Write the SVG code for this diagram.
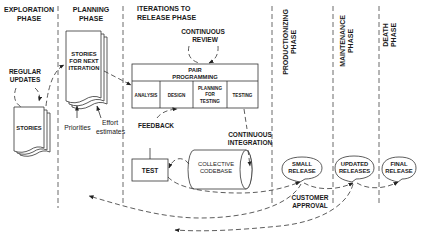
<svg xmlns="http://www.w3.org/2000/svg" width="426" height="242" viewBox="0 0 426 242">
  <defs>
    <marker id="arr" viewBox="0 0 10 10" refX="9" refY="5" markerWidth="5" markerHeight="5" markerUnits="userSpaceOnUse" orient="auto">
      <path d="M0 1 L10 5 L0 9 Z" fill="#222"/>
    </marker>
  </defs>
  <style>
    text { font-family: "Liberation Sans", Arial, sans-serif; fill: #1a1a1a; text-anchor: middle; }
    .h { font-size: 7px; font-weight: bold; }
    .l { font-size: 6.5px; font-weight: bold; }
    .n { font-size: 5.8px; font-weight: bold; }
    .s { font-size: 4.6px; font-weight: bold; }
    .r { font-size: 6.8px; }
    .shape { fill: #fff; stroke: #333; stroke-width: 0.8; }
    .sep { fill: none; stroke: #444; stroke-width: 0.8; stroke-dasharray: 5 3; }
    .dash { fill: none; stroke: #333; stroke-width: 0.8; stroke-dasharray: 5 3; }
    .solid { fill: none; stroke: #333; stroke-width: 0.8; }
  </style>
  <rect width="426" height="242" fill="#fff"/>

  <!-- phase separators -->
  <g id="separators">
    <line class="sep" x1="58" y1="6" x2="58" y2="208"/>
    <line class="sep" x1="123" y1="6" x2="123" y2="205"/>
    <line class="sep" x1="272" y1="6" x2="272" y2="206"/>
    <line class="sep" x1="333" y1="6" x2="333" y2="206"/>
    <line class="sep" x1="379" y1="6" x2="379" y2="204"/>
  </g>

  <!-- phase headings -->
  <g id="headings">
    <text class="h" x="29" y="12">EXPLORATION</text>
    <text class="h" x="29" y="21">PHASE</text>
    <text class="h" x="91" y="12">PLANNING</text>
    <text class="h" x="91" y="21">PHASE</text>
    <text class="h" x="137" y="11" style="text-anchor:start">ITERATIONS TO</text>
    <text class="h" x="137" y="20" style="text-anchor:start">RELEASE PHASE</text>
    <text class="h" transform="translate(287.5 42) rotate(-90)">PRODUCTIONIZING</text>
    <text class="h" transform="translate(296 42) rotate(-90)">PHASE</text>
    <text class="h" transform="translate(344.5 41) rotate(-90)">MAINTENANCE</text>
    <text class="h" transform="translate(353 41) rotate(-90)">PHASE</text>
    <text class="h" transform="translate(387.5 35) rotate(-90)">DEATH</text>
    <text class="h" transform="translate(396 35) rotate(-90)">PHASE</text>
  </g>

  <!-- stories document stack -->
  <g id="stories">
    <path class="shape" d="M20 113 H50 V152 Q43 149 36 154 Q28 158 20 155 Z"/>
    <path class="shape" d="M17 110 H47 V150 Q40 147 33 152 Q25 156 17 153 Z"/>
    <path class="shape" d="M14 107 H44 V148 Q37 145 30 150 Q22 154 14 151 Z"/>
    <text class="n" x="29" y="130">STORIES</text>
  </g>

  <!-- stories for next iteration document stack -->
  <g id="next-iteration">
    <path class="shape" d="M72 37 H107 V104 Q99 100 90 106 Q81 111 72 107 Z"/>
    <path class="shape" d="M69 34 H104 V101 Q96 97 87 103 Q78 108 69 104 Z"/>
    <path class="shape" d="M66 31 H101 V98 Q93 94 84 100 Q75 105 66 101 Z"/>
    <text class="n" x="84" y="56">STORIES</text>
    <text class="n" x="84" y="63">FOR NEXT</text>
    <text class="n" x="84" y="70">ITERATION</text>
  </g>

  <!-- pair programming block -->
  <g id="pair-programming">
    <rect class="shape" x="132" y="64" width="126" height="44"/>
    <line class="solid" x1="132" y1="81" x2="258" y2="81"/>
    <line class="solid" x1="160" y1="81" x2="160" y2="108"/>
    <line class="solid" x1="193" y1="81" x2="193" y2="108"/>
    <line class="solid" x1="227" y1="81" x2="227" y2="108"/>
    <text class="n" x="195" y="71.5">PAIR</text>
    <text class="n" x="195" y="78.5">PROGRAMMING</text>
    <text class="s" x="146" y="96.5">ANALYSIS</text>
    <text class="s" x="176.5" y="96.5">DESIGN</text>
    <text class="s" x="210" y="89.5">PLANNING</text>
    <text class="s" x="210" y="96">FOR</text>
    <text class="s" x="210" y="102.5">TESTING</text>
    <text class="s" x="242.5" y="96.5">TESTING</text>
  </g>

  <!-- test box -->
  <g id="test">
    <rect class="shape" x="132" y="159" width="36" height="22"/>
    <text class="l" x="150" y="172.5">TEST</text>
  </g>

  <!-- collective codebase cylinder -->
  <g id="codebase">
    <path class="shape" d="M194 150 H246 A6 19.5 0 0 1 246 189 H194 A6 19.5 0 0 1 194 150 Z"/>
    <ellipse class="shape" cx="246" cy="169.5" rx="6" ry="19.5"/>
    <text class="n" x="216" y="166" style="font-weight:normal">COLLECTIVE</text>
    <text class="n" x="216" y="173" style="font-weight:normal">CODEBASE</text>
  </g>

  <!-- releases -->
  <g id="small-release">
    <path class="shape" d="M300 182 C290 180 282 177 282 169 C282 161 290 157 302 157 C314 157 322 161 322 168 C322 175 314 179 305 179 Z"/>
    <text class="n" x="302" y="166">SMALL</text>
    <text class="n" x="302" y="173">RELEASE</text>
  </g>
  <g id="updated-releases">
    <path class="shape" d="M352 182 C342 180 335 177 335 168 C335 160 342 156 354 156 C366 156 374 160 374 168 C374 175 366 179 356 179 Z"/>
    <text class="n" x="354.5" y="166">UPDATED</text>
    <text class="n" x="354.5" y="173">RELEASES</text>
  </g>
  <g id="final-release">
    <path class="shape" d="M398 182 C389 180 382 177 382 169 C382 161 389 157 399 157 C410 157 416 161 416 168 C416 175 410 179 402 179 Z"/>
    <text class="n" x="399" y="166">FINAL</text>
    <text class="n" x="399" y="173">RELEASE</text>
  </g>

  <!-- free labels -->
  <g id="labels">
    <text class="l" x="25" y="74">REGULAR</text>
    <text class="l" x="25" y="82">UPDATES</text>
    <text class="r" x="77.5" y="130">Priorities</text>
    <text class="r" x="110" y="125">Effort</text>
    <text class="r" x="110.5" y="134">estimates</text>
    <text class="l" x="203" y="34">CONTINUOUS</text>
    <text class="l" x="205" y="42">REVIEW</text>
    <text class="l" x="156" y="128">FEEDBACK</text>
    <text class="l" x="250" y="137">CONTINUOUS</text>
    <text class="l" x="250" y="145">INTEGRATION</text>
    <text class="l" x="310" y="199.5">CUSTOMER</text>
    <text class="l" x="310" y="208">APPROVAL</text>
  </g>

  <!-- connectors -->
  <g id="connectors">
    <path class="dash" d="M16 88 Q11 102 23 108"/>
    <path class="dash" d="M35 88 Q41 93 39 101" marker-end="url(#arr)"/>
    <path class="dash" d="M46 106 Q50 72 64 65" marker-end="url(#arr)"/>
    <path class="solid" d="M77 118 L77 106" marker-end="url(#arr)"/>
    <path class="solid" d="M101 118 L97 106" marker-end="url(#arr)"/>
    <path class="dash" d="M104 71 L131 85" marker-end="url(#arr)"/>
    <path class="dash" d="M189 46 Q186 59 199 63"/>
    <path class="dash" d="M218 46 Q219 58 209 63" marker-end="url(#arr)"/>
    <path class="solid" d="M150 159 L150 148"/>
    <path class="dash" d="M157 118 Q163 110 177 109" marker-end="url(#arr)"/>
    <path class="dash" d="M244 109 L247 129"/>
    <path class="dash" d="M248 150 L250 166" marker-end="url(#arr)"/>
    <path class="dash" d="M189 164 C182 155 173 158 169 168" marker-end="url(#arr)"/>
    <path class="dash" d="M168 177 C178 188 205 193 240 193 C265 193 285 188 300 182" marker-end="url(#arr)"/>
    <path class="dash" d="M304 183 C318 191 338 190 353 183" marker-end="url(#arr)"/>
    <path class="dash" d="M357 183 C368 190 385 189 398 182" marker-end="url(#arr)"/>
    <path class="dash" d="M301 184 C290 205 250 218 200 218 C160 218 120 205 89 196" marker-end="url(#arr)"/>
    <path class="dash" d="M353 184 C348 205 320 222 280 226 C240 230 205 232 175 230" marker-end="url(#arr)"/>
  </g>
</svg>
